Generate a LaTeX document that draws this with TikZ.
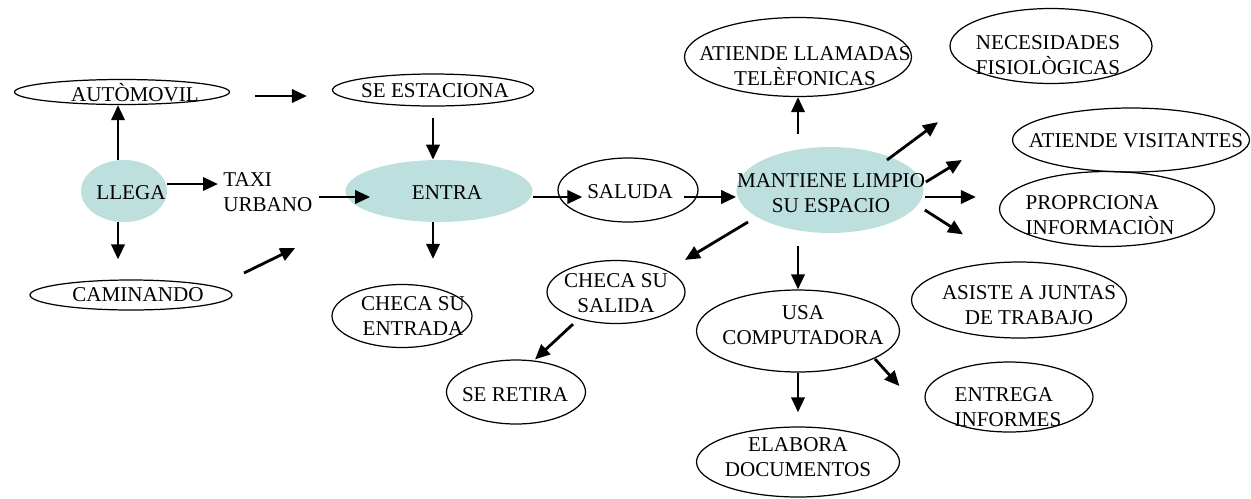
\documentclass[tikz,border=0pt]{standalone}
\usepackage{fontspec}
\setmainfont{Liberation Serif}
\usetikzlibrary{shapes.geometric, arrows.meta, calc}
\definecolor{accionteal}{RGB}{189, 224, 222}
\tikzstyle{oval} = [ellipse, draw=black, line width=0.7pt, inner sep=0pt]
\tikzstyle{accion} = [ellipse, fill=accionteal, inner sep=0pt]
\tikzstyle{texto} = [align=center, inner sep=0pt]
\tikzstyle{arrow} = [line width=1.6pt, -{Triangle[length=8.5pt, width=7.5pt]}]

\begin{document}
\begin{tikzpicture}[x=0.02cm, y=-0.02cm, font=\fontsize{12pt}{14pt}\selectfont]
\useasboundingbox (0,0) rectangle (1251,498);

% Llegada
\node (llega) [accion, minimum width=1.72cm, minimum height=1.24cm, label={[texto, shift={(7,2)}]center:LLEGA}] at (124,191) {};
\node (auto) [oval, minimum width=4.3cm, minimum height=0.5cm, label={[texto, shift={(13,1)}]center:AUTÒMOVIL}] at (122,92) {};
\node (caminando) [oval, minimum width=4.04cm, minimum height=0.6cm, label={[texto, shift={(7,0)}]center:CAMINANDO}] at (131,295) {};
\node (taxi) [texto, align=left, anchor=west] at (223,192) {TAXI\\URBANO};
\node (seest) [oval, minimum width=4.02cm, minimum height=0.64cm, label={[texto, shift={(2,1)}]center:SE ESTACIONA}] at (433,90) {};

% Entrada
\node (entra) [accion, minimum width=3.74cm, minimum height=1.24cm, label={[texto, shift={(8,2)}]center:ENTRA}] at (439,191) {};
\node (chkent) [oval, minimum width=2.8cm, minimum height=1.26cm, label={[texto, shift={(11,0)}]center:CHECA SU\\ENTRADA}] at (402,316) {};
\node (saluda) [oval, minimum width=2.8cm, minimum height=1.28cm, label={[texto, shift={(2,2)}]center:SALUDA}] at (628,190) {};

% Salida
\node (chksal) [oval, minimum width=2.76cm, minimum height=1.26cm, label={[texto, shift={(0,1)}]center:CHECA SU\\SALIDA}] at (616,292) {};
\node (retira) [oval, minimum width=2.78cm, minimum height=1.28cm, label={[texto, shift={(-1,3)}]center:SE RETIRA}] at (516,392) {};

% Actividades
\node (mant) [accion, minimum width=3.74cm, minimum height=1.72cm, label={[texto, shift={(1,3)}]center:MANTIENE LIMPIO\\SU ESPACIO}] at (830,190) {};
\node (llamadas) [oval, minimum width=4.54cm, minimum height=1.58cm, label={[texto, shift={(7,9)}]center:ATIENDE LLAMADAS\\TELÈFONICAS}] at (798,57) {};
\node (nec) [oval, minimum width=4.04cm, minimum height=1.5cm, label={[texto, shift={(-3,9)}]center:NECESIDADES\\FISIOLÒGICAS}] at (1051,46) {};
\node (visit) [oval, minimum width=4.74cm, minimum height=1.28cm, label={[texto, shift={(5,1)}]center:ATIENDE VISITANTES}] at (1131,140) {};
\node (prop) [oval, minimum width=4.3cm, minimum height=1.5cm, label={[texto, align=left, shift={(-7,6)}]center:PROPRCIONA\\INFORMACIÒN}] at (1107,209) {};
\node (asiste) [oval, minimum width=4.3cm, minimum height=1.52cm, label={[texto, shift={(10,5)}]center:ASISTE A JUNTAS\\DE TRABAJO}] at (1019,300) {};
\node (usa) [oval, minimum width=4.06cm, minimum height=1.64cm, label={[texto, shift={(5,-6)}]center:USA\\COMPUTADORA}] at (798,331) {};
\node (elabora) [oval, minimum width=4.06cm, minimum height=1.4cm, label={[texto, shift={(0,-5)}]center:ELABORA\\DOCUMENTOS}] at (798,462) {};
\node (entrega) [oval, minimum width=3.36cm, minimum height=1.4cm, label={[texto, align=left, shift={(-1,10)}]center:ENTREGA\\INFORMES}] at (1009,397) {};

% Arrows
\draw [arrow] ($(llega.north)+(-6,0)$) -- ($(auto.south)+(-4,0)$);
\draw [arrow] ($(llega.south)+(-6,0)$) -- ($(caminando.north)+(-13,-20)$);
\draw [arrow] ($(llega.east)+(0,-7)$) -- ($(taxi.west)+(-5,-8)$);
\draw [arrow] ($(auto.east)+(25,4)$) -- ($(seest.west)+(-25,6)$);
\draw [arrow] ($(caminando.center)+(113,-22)$) -- ($(entra.west)+(-50,57)$);
\draw [arrow] ($(taxi.east)+(6,5)$) -- ($(entra.west)+(25,6)$);
\draw [arrow] ($(seest.south)+(0,11)$) -- ($(entra.north)+(-6,0)$);
\draw [arrow] ($(entra.south)+(-6,0)$) -- ($(chkent.north)+(31,-25)$);
\draw [arrow] ($(entra.east)+(0,6)$) -- ($(saluda.west)+(25,7)$);
\draw [arrow] ($(saluda.east)+(-15,7)$) -- ($(mant.west)+(0,7)$);

% Mantiene limpio
\draw [arrow] ($(mant.north)+(-32,-13)$) -- (llamadas.south);
\draw [arrow] ($(mant.center)+(57,-30)$) -- ($(nec.south)+(-113,38)$);
\draw [arrow] ($(mant.east)+(2,-8)$) -- ($(visit.west)+(-50,20)$);
\draw [arrow] ($(mant.east)+(1,7)$) -- ($(prop.west)+(-23,-12)$);
\draw [arrow] ($(mant.east)+(1,20)$) -- ($(asiste.north)+(-56,-27)$);
\draw [arrow] ($(usa.north)+(0,-43)$) -- (usa.north);
\draw [arrow] ($(mant.center)+(-82,32)$) -- ($(chksal.north)+(69,0)$);
\draw [arrow] ($(chksal.south)+(-43,0)$) -- ($(retira.north)+(19,0)$);
\draw [arrow] (usa.south) -- ($(elabora.north)+(0,-14)$);
\draw [arrow] ($(usa.center)+(77,28)$) -- ($(entrega.west)+(-25,-11)$);

\end{tikzpicture}
\end{document}
